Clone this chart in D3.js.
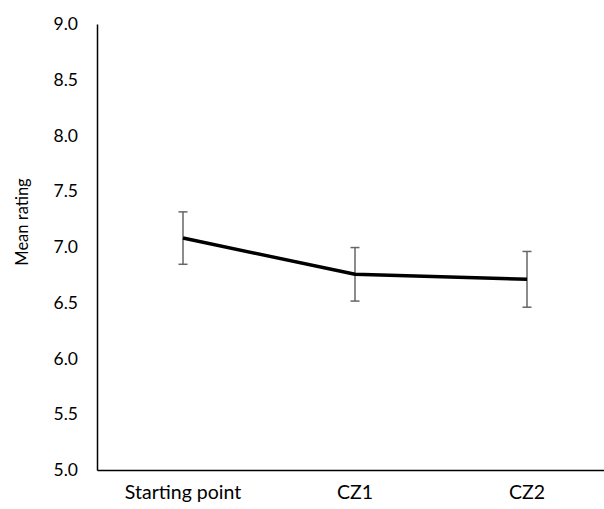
<!DOCTYPE html>
<html>
<head>
<meta charset="utf-8">
<script src="https://cdn.jsdelivr.net/npm/d3@7"></script>
<style>
  body { margin: 0; background: #fff; }
  svg text { font-family: Lato, "Open Sans", sans-serif; fill: #000; }
</style>
</head>
<body>
<div id="chart"></div>
<script>
// data
var categories = ["Starting point", "CZ1", "CZ2"];
var meanRating = [7.08, 6.755, 6.71];
var errorSize = [0.235, 0.24, 0.25];
var yTicks = [5.0, 5.5, 6.0, 6.5, 7.0, 7.5, 8.0, 8.5, 9.0];

var svgWidth = 604, svgHeight = 509;
var margin = { top: 24, right: -9, bottom: 39, left: 97 };
var width = svgWidth - margin.left - margin.right;
var height = svgHeight - margin.top - margin.bottom;

var svg = d3.select("#chart").append("svg")
    .attr("width", svgWidth)
    .attr("height", svgHeight);
var g = svg.append("g")
    .attr("transform", `translate(${margin.left}, ${margin.top})`);

var x = d3.scaleBand().domain(categories).range([0, width]);
var y = d3.scaleLinear().domain([5, 9]).range([height, 0]);

// axes
var yAxis = g.append("g")
    .call(d3.axisLeft(y).tickValues(yTicks).tickSize(0).tickPadding(19).tickFormat(d3.format(".1f")));
yAxis.select(".domain").attr("stroke", "#000").attr("stroke-width", 1.5);
yAxis.selectAll("text").attr("font-size", 17.5).attr("font-family", "Lato");

var xAxis = g.append("g")
    .attr("transform", `translate(0, ${height})`)
    .call(d3.axisBottom(x).tickSize(0).tickPadding(15));
xAxis.select(".domain").attr("stroke", "#000").attr("stroke-width", 1.5);
xAxis.selectAll("text").attr("font-size", 19.5).attr("font-family", "Lato");

// axis title
g.append("text")
    .attr("transform", "rotate(-90)")
    .attr("x", -(222 - margin.top))
    .attr("y", 22 - margin.left)
    .attr("dy", "0.35em")
    .attr("text-anchor", "middle")
    .attr("font-size", 16.5)
    .text("Mean rating");

var cx = d => x(d) + x.bandwidth() / 2;

// error bars
var eb = g.selectAll(".err")
    .data(categories)
    .enter()
    .append("g")
    .attr("class", "err")
    .attr("stroke", "#666")
    .attr("stroke-width", 1.5);
eb.append("line")
    .attr("x1", cx).attr("x2", cx)
    .attr("y1", (d, i) => y(meanRating[i] + errorSize[i]))
    .attr("y2", (d, i) => y(meanRating[i] - errorSize[i]));
eb.append("line")
    .attr("x1", d => cx(d) - 4.5).attr("x2", d => cx(d) + 4.5)
    .attr("y1", (d, i) => y(meanRating[i] + errorSize[i]))
    .attr("y2", (d, i) => y(meanRating[i] + errorSize[i]));
eb.append("line")
    .attr("x1", d => cx(d) - 4.5).attr("x2", d => cx(d) + 4.5)
    .attr("y1", (d, i) => y(meanRating[i] - errorSize[i]))
    .attr("y2", (d, i) => y(meanRating[i] - errorSize[i]));

// mean line
var line = d3.line()
    .x((d, i) => cx(categories[i]))
    .y(d => y(d));
g.append("path")
    .datum(meanRating)
    .attr("d", line)
    .attr("fill", "none")
    .attr("stroke", "#000")
    .attr("stroke-width", 3.5)
    .attr("stroke-linejoin", "round");
</script>
</body>
</html>
